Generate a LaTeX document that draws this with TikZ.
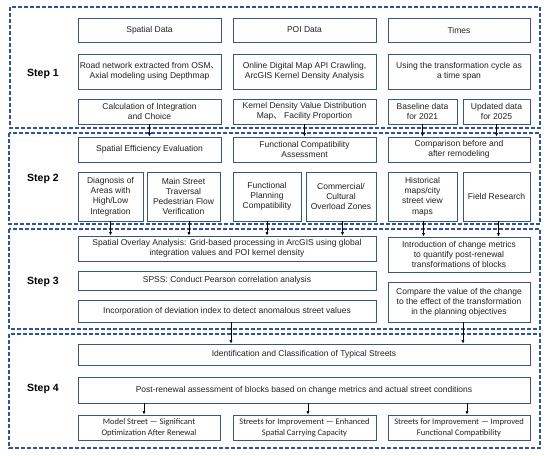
\documentclass[tikz,border=0pt]{standalone}
\usepackage{fontspec}
\setmainfont{Liberation Sans}
\newfontfamily\cjk{Noto Sans CJK SC}
\newfontfamily\calib{Carlito}
\usetikzlibrary{arrows.meta}
\definecolor{boxc}{HTML}{3A5680}
\definecolor{dashc}{HTML}{2F5597}
\definecolor{txtc}{HTML}{222222}
\begin{document}
\begin{tikzpicture}[x=1pt,y=-1pt,
  box/.style={draw=boxc,line width=0.8pt,align=center,inner sep=1pt,text=txtc,
    font=\fontsize{8.5}{10.2}\selectfont},
  cbox/.style={box,font=\calib\fontsize{8.5}{11}\selectfont},
  stepframe/.style={draw=dashc,line width=1.1pt,dash pattern=on 4pt off 2pt},
  steplabel/.style={font=\bfseries\fontsize{10.5}{12}\selectfont},
  arr/.style={-{Latex[length=3.5pt,width=3pt]},line width=0.6pt,black}]
\useasboundingbox (0,0) rectangle (550,456);
\fill[white] (0,0) rectangle (550,456);
% step frames
\draw[stepframe] (10,7) rectangle (540,128);
\draw[stepframe] (9,133) rectangle (540,224);
\draw[stepframe] (9,229) rectangle (540,329);
\draw[stepframe] (9,334) rectangle (540,448);
\node[steplabel] (l1) at (43,74) {Step 1};
\node[steplabel] (l2) at (43,179) {Step 2};
\node[steplabel] (l3) at (43,282) {Step 3};
\node[steplabel] (l4) at (43,389) {Step 4};
% step 1
\node[box,minimum width=143pt,minimum height=24pt] (sd) at (149.5,30) {Spatial Data};
\node[box,minimum width=143pt,minimum height=24pt] (poi) at (304.5,30) {POI Data};
\node[box,minimum width=142pt,minimum height=24pt] (tim) at (459,30) {Times};
\node[box,minimum width=143pt,minimum height=35pt] (rn) at (149.5,71.5) {Road network extracted from OSM{\cjk 、}\\Axial modeling using Depthmap};
\node[box,minimum width=143pt,minimum height=35pt] (od) at (304.5,71.5) {Online Digital Map API Crawling,\\ArcGIS Kernel Density Analysis};
\node[box,minimum width=142pt,minimum height=35pt] (ut) at (459,71.5) {Using the transformation cycle as\\a time span};
\node[box,minimum width=143pt,minimum height=25pt] (calc) at (149.5,111.5) {Calculation of Integration\\and Choice};
\node[box,minimum width=143pt,minimum height=25pt] (kd) at (304.5,111.5) {Kernel Density Value Distribution\\Map{\cjk 、} Facility Proportion};
\node[box,minimum width=69pt,minimum height=25pt] (bl) at (422.5,111.5) {Baseline data\\for 2021};
\node[box,minimum width=67pt,minimum height=25pt] (ud) at (496.5,111.5) {Updated data\\for 2025};
% step 2
\node[box,minimum width=143pt,minimum height=25pt] (se) at (149.5,149.5) {Spatial Efficiency Evaluation};
\node[box,minimum width=143pt,minimum height=25pt] (fc) at (304.5,149.5) {Functional Compatibility\\Assessment};
\node[box,minimum width=142pt,minimum height=25pt] (cb) at (459,149.5) {Comparison before and\\after remodeling};
\node[box,minimum width=65pt,minimum height=49pt] (dg) at (110.5,196.5) {Diagnosis of\\Areas with\\High/Low\\Integration};
\node[box,minimum width=73pt,minimum height=49pt] (ms) at (183.5,196.5) {Main Street\\Traversal\\Pedestrian Flow\\Verification};
\node[box,minimum width=68pt,minimum height=49pt] (fp) at (267,196.5) {Functional\\Planning\\Compatibility};
\node[box,minimum width=70pt,minimum height=49pt] (cc) at (341,196.5) {Commercial/\\Cultural\\Overload Zones};
\node[box,minimum width=69pt,minimum height=49pt] (hm) at (422.5,196.5) {Historical\\maps/city\\street view\\maps};
\node[box,minimum width=67pt,minimum height=49pt] (fr) at (496.5,196.5) {Field Research};
% step 3
\node[box,minimum width=298pt,minimum height=25pt] (so) at (227,248.5) {Spatial Overlay Analysis: Grid-based processing in ArcGIS using global\\integration values and POI kernel density};
\node[box,minimum width=298pt,minimum height=19pt] (sp) at (227,280.5) {SPSS: Conduct Pearson correlation analysis};
\node[box,minimum width=298pt,minimum height=22pt] (inc) at (227,311) {Incorporation of deviation index to detect anomalous street values};
\node[box,minimum width=142pt,minimum height=35pt] (intro) at (459,254.5) {Introduction of change metrics\\to quantify post-renewal\\transformations of blocks};
\node[box,minimum width=142pt,minimum height=40pt] (cmp) at (459,302) {Compare the value of the change\\to the effect of the transformation\\in the planning objectives};
% step 4
\node[box,minimum width=452pt,minimum height=21pt] (idn) at (304,354.5) {Identification and Classification of Typical Streets};
\node[box,minimum width=452pt,minimum height=26pt] (pr) at (304,390) {Post-renewal assessment of blocks based on change metrics and actual street conditions};
\node[cbox,minimum width=142pt,minimum height=25pt] (m1) at (149,427.5) {Model Street — Significant\\Optimization After Renewal};
\node[cbox,minimum width=143pt,minimum height=25pt] (m2) at (304.5,427.5) {Streets for Improvement — Enhanced\\Spatial Carrying Capacity};
\node[cbox,minimum width=142pt,minimum height=25pt] (m3) at (459,427.5) {Streets for Improvement — Improved\\Functional Compatibility};
% arrows step1 -> step2
\draw[arr] (calc.south) -- (calc.south |- se.north);
\draw[arr] (kd.south) -- (kd.south |- fc.north);
\draw[arr] (bl.south) -- (bl.south |- cb.north);
\draw[arr] (ud.south) -- (ud.south |- cb.north);
% arrows step2 -> step3
\draw[arr] (dg.south) -- (dg.south |- so.north);
\draw[arr] ([xshift=5.5pt]ms.south) -- ([xshift=5.5pt]ms.south |- so.north);
\draw[arr] (fp.south) -- (fp.south |- so.north);
\draw[arr] ([xshift=1.5pt]cc.south) -- ([xshift=1.5pt]cc.south |- so.north);
\draw[arr] ([xshift=1pt]hm.south) -- ([xshift=1pt]hm.south |- intro.north);
\draw[arr] ([xshift=2pt]fr.south) -- ([xshift=2pt]fr.south |- intro.north);
% arrows step3 -> step4
\draw[arr] ([xshift=4pt]inc.south) -- ([xshift=4pt]inc.south |- idn.north);
\draw[arr] ([xshift=4pt]cmp.south) -- ([xshift=4pt]cmp.south |- idn.north);
% arrows step4
\draw[arr] ([xshift=-5pt]m1.north |- pr.south) -- ([xshift=-5pt]m1.north);
\draw[arr] ([xshift=3.5pt]m2.north |- pr.south) -- ([xshift=3.5pt]m2.north);
\draw[arr] ([xshift=8pt]m3.north |- pr.south) -- ([xshift=8pt]m3.north);
\end{tikzpicture}
\end{document}
